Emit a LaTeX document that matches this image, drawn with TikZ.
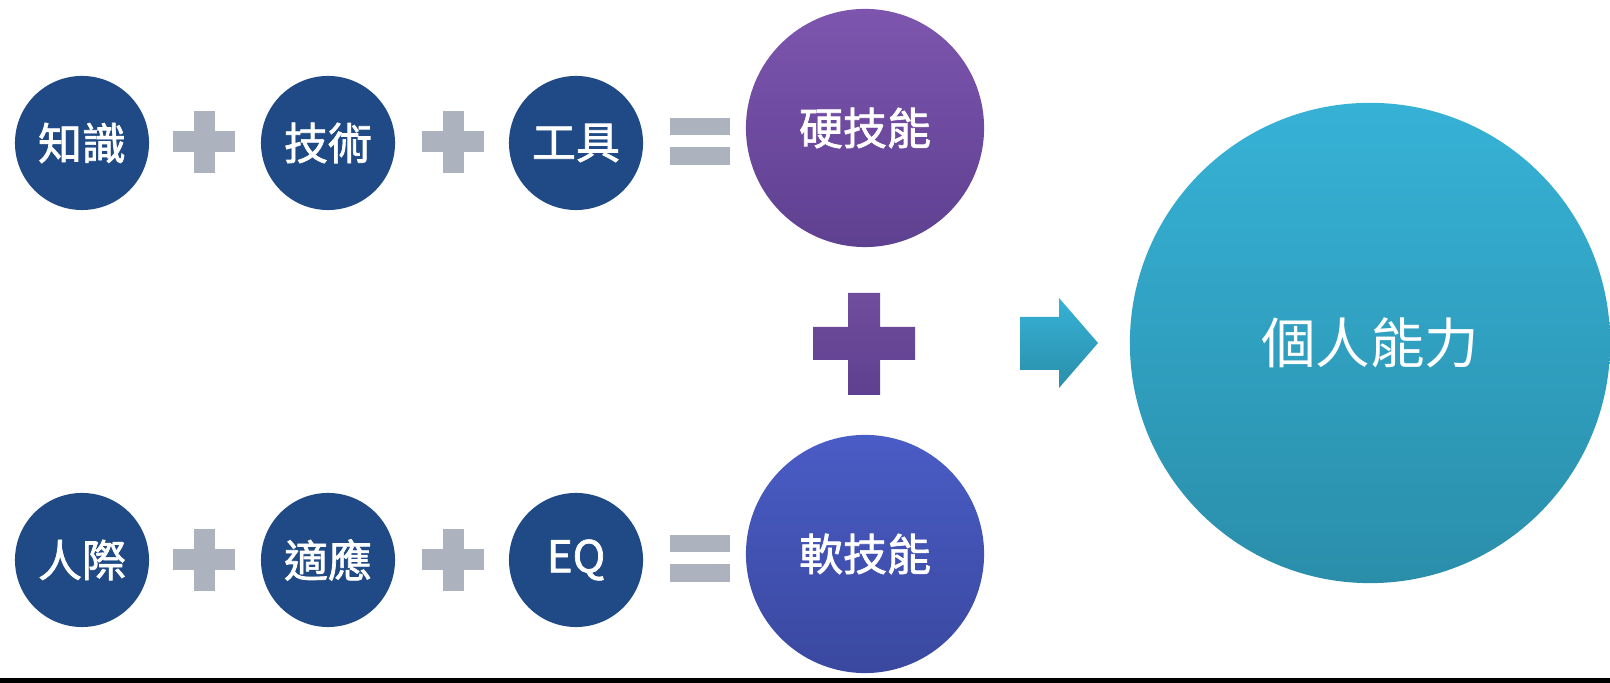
\documentclass[tikz,border=0pt]{standalone}
\usepackage{fontspec}
\newfontfamily\cjk{Noto Sans CJK TC}
\newfontfamily\cjkmid{Noto Sans CJK TC}[FakeBold=1.6]
\usepackage{tikz}
\usetikzlibrary{shapes,positioning,calc}
\usepackage{xcolor}

\definecolor{navy}{HTML}{1F4A85}
\definecolor{signgray}{HTML}{ADB2BF}
\definecolor{purpletop}{HTML}{7D55AE}
\definecolor{purplebot}{HTML}{5E4090}
\definecolor{bluetop}{HTML}{4A5CC6}
\definecolor{bluebot}{HTML}{3A489F}
\definecolor{tealtop}{HTML}{36B2D6}
\definecolor{tealbot}{HTML}{2A8EAA}
\definecolor{baseline}{HTML}{4A4A4A}

\tikzset{
  smallball/.style={circle, fill=navy, minimum size=1.34cm, inner sep=0pt,
    text=white, font=\cjkmid\fontsize{12.5}{15}\selectfont},
  skillball/.style={circle, minimum size=2.38cm, inner sep=0pt,
    text=white, font=\cjkmid\fontsize{12.5}{15}\selectfont},
  bigball/.style={circle, top color=tealtop, bottom color=tealbot,
    minimum size=4.8cm, inner sep=0pt, text=white,
    font=\cjk\fontsize{15.5}{18}\selectfont}
}

\begin{document}
\begin{tikzpicture}[x=0.01cm, y=0.01cm]

\useasboundingbox (0,0) rectangle (1610,683);

% Hard skills row
\node[smallball] (zhishi) at (82,540) {知識};
\fill[signgray] (173,530.5) rectangle (235,551.5);
\fill[signgray] (193.5,510) rectangle (214.5,572);
\node[smallball] (jishu) at (328,540) {技術};
\fill[signgray] (422,530.5) rectangle (484,551.5);
\fill[signgray] (442.5,510) rectangle (463.5,572);
\node[smallball] (gongju) at (576,540) {工具};
\fill[signgray] (670,548) rectangle (730,565);
\fill[signgray] (670,518) rectangle (730,536);
\node[skillball, top color=purpletop, bottom color=purplebot] (hard) at (865,555) {硬技能};

% Soft skills row
\node[smallball] (renji) at (82,123) {人際};
\fill[signgray] (173,112.5) rectangle (235,133.5);
\fill[signgray] (193.5,92) rectangle (214.5,154);
\node[smallball] (shiying) at (328,123) {適應};
\fill[signgray] (422,112.5) rectangle (484,133.5);
\fill[signgray] (442.5,92) rectangle (463.5,154);
\node[smallball] (eq) at (576,123) {EQ};
\fill[signgray] (670,131) rectangle (730,148);
\fill[signgray] (670,101) rectangle (730,119);
\node[skillball, top color=bluetop, bottom color=bluebot] (soft) at (865,129) {軟技能};

% Big plus
\shade[top color=purpletop!90!black, bottom color=purplebot]
  (848,390) -- (880,390) -- (880,356) -- (915,356) -- (915,323) -- (880,323)
  -- (880,288) -- (848,288) -- (848,323) -- (813,323) -- (813,356) -- (848,356) -- cycle;

% Arrow
\shade[top color=tealtop, bottom color=tealbot]
  (1020,313) -- (1020,366) -- (1059,366) -- (1059,385) -- (1098,340)
  -- (1059,295) -- (1059,313) -- cycle;

% Result
\node[bigball] (personal) at (1370,340) {個人能力};

% Bottom rule
\fill[baseline] (0,0) rectangle (1610,5);

\end{tikzpicture}
\end{document}
